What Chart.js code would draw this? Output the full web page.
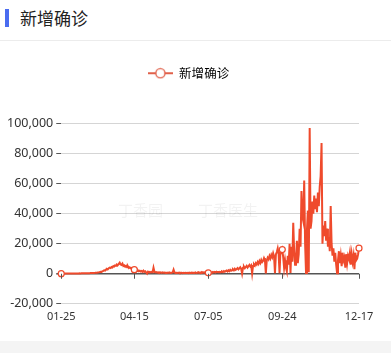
<!DOCTYPE html>
<html>
<head>
<meta charset="utf-8">
<script src="https://cdn.jsdelivr.net/npm/chart.js@4/dist/chart.umd.min.js"></script>
<style>
  html, body { margin: 0; padding: 0; background: #fff; }
  body { width: 391px; height: 353px; position: relative; overflow: hidden;
         font-family: "Noto Sans CJK SC", "Noto Sans", sans-serif; }
  .head { position: absolute; left: 0; top: 0; width: 391px; height: 40px; border-bottom: 1px solid #ececec; }
  .bar { position: absolute; left: 5px; top: 9px; width: 4px; height: 18px; background: #4a6cf0; }
  .title { position: absolute; left: 20px; top: 2px; font-size: 17px; line-height: 32px; color: #222; }
  .box { position: absolute; left: 0; top: 41px; width: 391px; height: 299px; }
  .foot { position: absolute; left: 0; top: 341px; width: 391px; height: 12px; background: #f4f4f4; }
</style>
</head>
<body>
<div class="head"><div class="bar"></div><div class="title">新增确诊</div></div>
<div class="box"><canvas id="casesChart" width="391" height="299"></canvas></div>
<div class="foot"></div>
<script>
// daily new confirmed, 2022-01-25 .. 2022-12-17
const seriesName = '新增确诊';
const startDay = [2022, 0, 25];
const tickLabels = ['01-25', '04-15', '07-05', '09-24', '12-17'];
const yTicks = [-20000, 0, 20000, 40000, 60000, 80000, 100000];

const newCases = [
  // 01-25 .. 03-06
  60, 80, 70, 90, 100, 120, 110, 100, 130, 150, 140, 160, 180, 150, 170, 200, 190, 210, 230, 200,
  250, 240, 260, 280, 300, 270, 310, 330, 350, 320, 380, 400, 420, 450, 430, 480, 520, 600, 650, 700, 800,
  // spring wave .. 04-15
  900, 1100, 1300, 1200, 1600, 1900, 2300, 2100, 2800, 3200, 3000, 3600, 4100, 3800, 4500, 4200, 5100, 4800, 5600, 5300,
  6100, 5800, 6600, 7400, 6200, 5900, 6800, 5200, 5600, 4700, 5300, 4400, 4900, 3800, 4300, 3600, 3900, 3100, 3400, 2700,
  // 04-16 .. 07-04
  2200, 2500, 1900, 2300, 1700, 2000, 1500, 1800, 1300, 2100, 1200, 1600, 900, 100, 1400, 1100, 1300, 900, 1200, 1000,
  4000, 1300, 900, 1100, 800, 1000, 700, 900, 800, 600, 900, 700, 800, 600, 700, 500, 800, 600, 700, 500,
  600, 900, 2700, 800, 600, 700, 500, 600, 800, 500, 600, 700, 400, 600, 500, 700, 500, 600, 400, 700,
  500, 600, 800, 500, 700, 600, 900, 500, 700, 1000, 600, 800, 700, 1100, 600, 900, 800, 1200, 700, 900,
  // 07-05
  600,
  // 07-06 .. 09-23
  800, 1100, 700, 1000, 1300, 900, 1200, 800, 1400, 1100, 1000, 1300, 900, 1200,
  1500, 1100, 1800, 1300, 1700, 2100, 1500, 2300, 1700, 2600, 2000, 2400, 2900, 2300,
  3300, 2600, 3100, 3800, 2900, 3600, 4300, 3300, 200, 4000, 4800, 3700, 4500, 5300, 4100, 5000, 5900, 4800,
  5600, 300, 5200, 6300, 5400, 7000, 6100, 7800, 6600, 8500, 7200, 9200, 7800, 8600, 10400, 9000, 200,
  8800, 10700, 9600, 11800, 10200, 12500, 11000, 13600, 11500, 300, 12800, 14500, 16900, 13200, 400, 15000, 14200,
  // 09-24
  16100,
  // 09-25 .. 12-17
  11000, 4000, 9000, 4000, 1500, 12000, 6000, 20000,
  500, 18000, 8000, 34000, 15000, 6000, 9000, 22000, 7000, 13000,
  30000, 18000, 55000, 38000, 35000, 62000, 20000, 500, 29000, 42000, 1000,
  97000,
  30000, 35000, 48000, 40000, 52000, 43000, 50000, 41000, 54000, 45000, 58000, 65000,
  87000,
  20000, 32000, 25000, 35000, 22000, 30000, 18000, 24000, 15000, 45000, 20000, 12000, 17000,
  8000, 14000, 6000, 300, 9000, 15000, 7000, 12000, 5000, 14000, 9000, 11000,
  4000, 13000, 7000, 12000, 10000, 14000, 6000, 13000, 8000, 12000, 3000, 14000, 9000, 10000, 13000,
  17000
];

const dateLabels = newCases.map((v, i) => {
  const d = new Date(startDay[0], startDay[1], startDay[2] + i);
  return String(d.getMonth() + 1).padStart(2, '0') + '-' + String(d.getDate()).padStart(2, '0');
});

const lineColor = '#ef4a2c';

// legend marker: short line with hollow circle
const legendIcon = document.createElement('canvas');
legendIcon.width = 25;
legendIcon.height = 12;
(function () {
  const c = legendIcon.getContext('2d');
  c.strokeStyle = '#e0604a';
  c.lineWidth = 2;
  c.beginPath(); c.moveTo(0, 6); c.lineTo(25, 6); c.stroke();
  c.fillStyle = '#fff';
  c.lineWidth = 1.4;
  c.beginPath(); c.arc(12.5, 6, 4.6, 0, Math.PI * 2); c.fill(); c.stroke();
})();

// extra room under the legend, and nudge it right like the original
const legendGap = {
  id: 'legendGap',
  beforeInit(chart) {
    const fit = chart.legend.fit;
    chart.legend.fit = function () {
      fit.bind(chart.legend)();
      this.height += 34;
    };
  },
  afterLayout(chart) {
    chart.legend.left += 7;
    chart.legend.right += 7;
  }
};

const extras = {
  id: 'extras',
  beforeDatasetsDraw(chart) {
    const ctx = chart.ctx;
    ctx.save();
    ctx.fillStyle = 'rgba(0,0,0,0.05)';
    ctx.font = '15px "Noto Sans CJK SC"';
    ctx.textBaseline = 'middle';
    ctx.fillText('丁香园', 118, 169);
    ctx.fillText('丁香医生', 198, 169);
    ctx.restore();
  },
  afterDraw(chart) {
    // small tick marks below the zero line
    const ctx = chart.ctx;
    const x = chart.scales.x, y = chart.scales.y;
    const y0 = y.getPixelForValue(0);
    ctx.save();
    ctx.strokeStyle = '#555';
    ctx.lineWidth = 1;
    tickLabels.forEach(l => {
      const px = Math.round(x.getPixelForValue(dateLabels.indexOf(l))) + 0.5;
      ctx.beginPath(); ctx.moveTo(px, y0); ctx.lineTo(px, y0 + 5); ctx.stroke();
    });
    ctx.restore();
  }
};

new Chart(document.getElementById('casesChart'), {
  type: 'line',
  data: {
    labels: dateLabels,
    datasets: [{
      label: seriesName,
      data: newCases,
      borderColor: lineColor,
      backgroundColor: '#fff',
      borderWidth: 2,
      tension: 0,
      pointRadius: c => tickLabels.includes(dateLabels[c.dataIndex]) ? 3 : 0,
      pointBorderWidth: 1.2,
      pointBackgroundColor: '#fff',
      pointBorderColor: lineColor,
      pointHoverRadius: 0
    }]
  },
  options: {
    responsive: false,
    animation: false,
    layout: { padding: { left: 4, right: 32, top: 16, bottom: 11 } },
    plugins: {
      tooltip: { enabled: false },
      legend: {
        position: 'top',
        labels: {
          usePointStyle: true,
          pointStyleWidth: 25,
          boxHeight: 12,
          padding: 10,
          color: '#444',
          font: { size: 12.5, family: '"Noto Sans CJK SC"' },
          generateLabels: chart => [{
            text: seriesName,
            pointStyle: legendIcon,
            fillStyle: '#fff',
            strokeStyle: lineColor,
            lineWidth: 0,
            datasetIndex: 0
          }]
        }
      }
    },
    scales: {
      x: {
        grid: { display: false, drawTicks: false },
        border: { display: false },
        ticks: {
          autoSkip: false,
          maxRotation: 0,
          padding: 6,
          color: '#333',
          font: { size: 11, family: '"Noto Sans", sans-serif' },
          callback: function (value) {
            const l = this.getLabelForValue(value);
            return tickLabels.includes(l) ? l : null;
          }
        }
      },
      y: {
        min: -20000,
        max: 100000,
        afterBuildTicks: axis => { axis.ticks = yTicks.map(v => ({ value: v })); },
        border: { display: false },
        grid: {
          color: c => c.tick && c.tick.value === 0 ? '#555' : '#d5d5d5',
          lineWidth: c => c.tick && c.tick.value === 0 ? 1.6 : 1,
          tickColor: '#555',
          tickLength: 5
        },
        ticks: {
          padding: 3,
          color: '#333',
          font: { size: 12.5, family: '"Noto Sans", sans-serif' },
          callback: v => v.toLocaleString('en-US')
        }
      }
    }
  },
  plugins: [legendGap, extras]
});
</script>
</body>
</html>
